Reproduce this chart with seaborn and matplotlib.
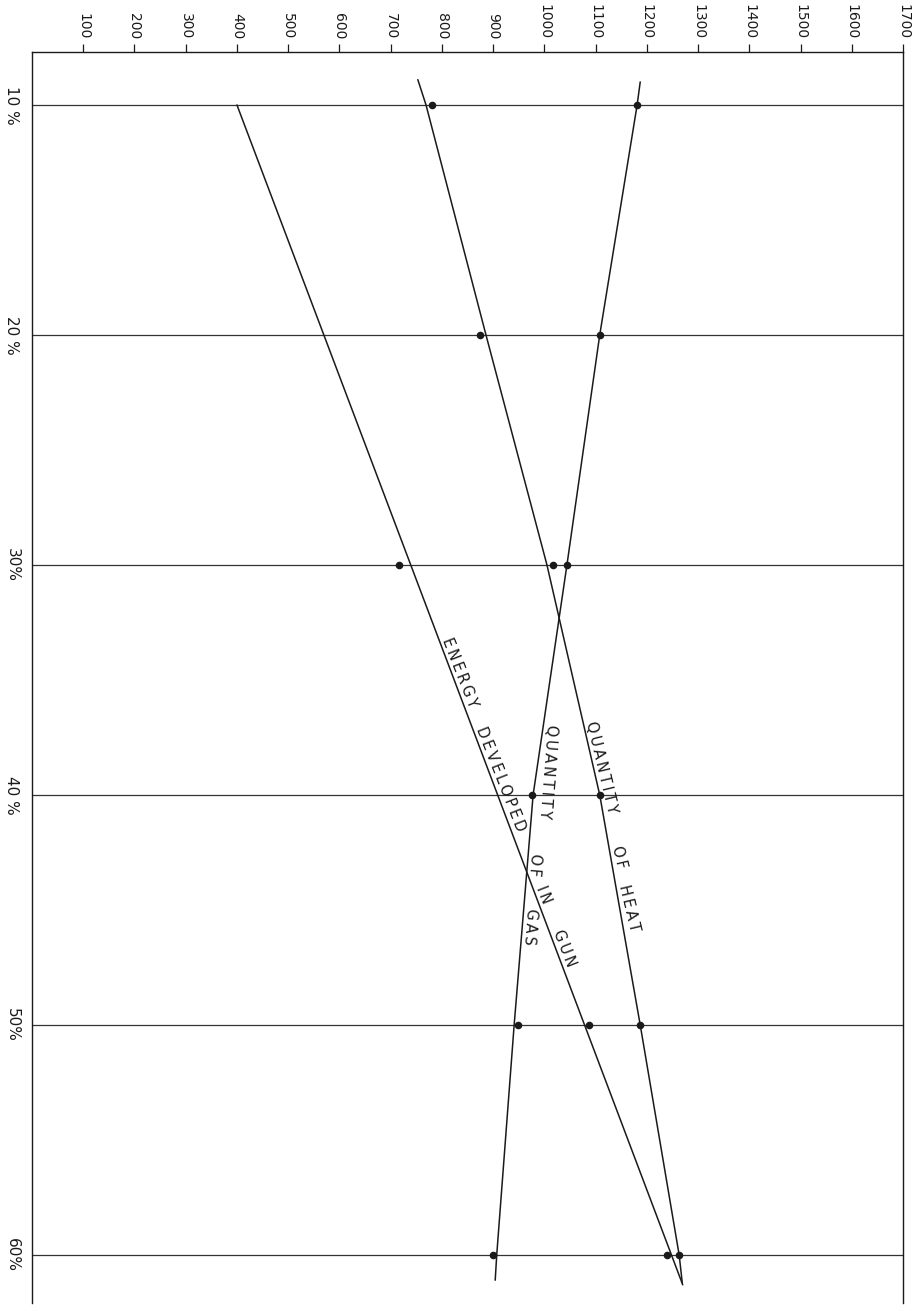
import numpy as np
import pandas as pd
import matplotlib
matplotlib.use("Agg")
import matplotlib.pyplot as plt
import seaborn as sns

# -----------------------------
# Data
# -----------------------------
pct_ticks = [10, 20, 30, 40, 50, 60]
pct_labels = ["10 %", "20 %", "30%", "40 %", "50%", "60%"]
value_ticks = list(range(100, 1800, 100))

# measured points (dots)
heat_pct = [10, 20, 30, 40, 50, 60]
heat_val = [781, 874, 1017, 1108, 1187, 1263]

gas_pct = [10, 20, 30, 40, 50, 60]
gas_val = [1181, 1108, 1044, 975, 948, 900]

energy_pct = [30, 50, 60]
energy_val = [716, 1087, 1239]

# drawn (faired) curves
heat_line_pct = [8.9, 10, 20, 30, 40, 50, 60, 61.2]
heat_line_val = [753, 769, 886, 1005, 1108, 1187, 1263, 1269]

gas_line_pct = [9.0, 10, 20, 30, 40, 50, 60, 61.1]
gas_line_val = [1187, 1181, 1108, 1044, 978, 941, 907, 904]

energy_line_pct = [10, 61.3]
energy_line_val = [400, 1270]

# curve labels: words and where each starts (percent along the curve)
energy_words = ["ENERGY", "DEVELOPED", "IN", "GUN"]
energy_word_pct = [33.3, 37.2, 44.1, 46.0]
heat_words = ["QUANTITY", "OF", "HEAT"]
heat_word_pct = [36.9, 42.3, 44.0]
gas_words = ["QUANTITY", "OF", "GAS"]
gas_word_pct = [36.9, 42.5, 44.9]

# -----------------------------
# Figure
# -----------------------------
sns.set_theme(style="white")
plt.rcParams["font.family"] = ["DejaVu Sans"]

fig = plt.figure(figsize=(9.16, 13.11), dpi=100)
ax = fig.add_axes([0.0349, 0.0061, 0.951, 0.9542])

ink = "#1a1a1a"

# horizontal rules at each percent
for p in pct_ticks:
    ax.axhline(p, color="#333333", lw=0.9, zorder=1)

lines = [
    (heat_line_val, heat_line_pct),
    (gas_line_val, gas_line_pct),
    (energy_line_val, energy_line_pct),
]
for xv, yv in lines:
    sns.lineplot(x=xv, y=yv, sort=False, color=ink, lw=1.1, ax=ax, zorder=2)

pts = pd.DataFrame({
    "value": heat_val + gas_val + energy_val,
    "pct": heat_pct + gas_pct + energy_pct,
})
sns.scatterplot(data=pts, x="value", y="pct", color=ink, s=30,
                edgecolor=ink, linewidth=0, ax=ax, zorder=3)


def spaced(word):
    return "\u2009".join(word)


def label_curve(words, word_pct, line_pct, line_val, angle):
    for w, p in zip(words, word_pct):
        v = np.interp(p, line_pct, line_val)
        ax.text(v, p, spaced(w), rotation=angle, rotation_mode="anchor",
                ha="left", va="bottom", fontsize=10.5, color=ink, zorder=4)


label_curve(energy_words, energy_word_pct, energy_line_pct, energy_line_val, -68.5)
label_curve(heat_words, heat_word_pct, heat_line_pct, heat_line_val, -76.5)
label_curve(gas_words, gas_word_pct, gas_line_pct, gas_line_val, -94.5)

# -----------------------------
# Axes styling
# -----------------------------
ax.set_xlim(0, 1700)
ax.set_ylim(62.09, 7.70)

ax.xaxis.tick_top()
ax.set_xticks(value_ticks)
ax.set_xticklabels([str(v) for v in value_ticks], rotation=-90,
                   fontsize=10, color=ink)
ax.tick_params(axis="x", top=True, bottom=False, length=6, width=0.9,
               direction="out", pad=3, color=ink)

ax.set_yticks(pct_ticks)
ax.set_yticklabels(pct_labels, rotation=-90, fontsize=11, color=ink,
                   va="center")
ax.tick_params(axis="y", left=False, right=False, pad=3)

ax.set_xlabel("")
ax.set_ylabel("")

for side in ["top", "left", "right"]:
    ax.spines[side].set_visible(True)
    ax.spines[side].set_color(ink)
    ax.spines[side].set_linewidth(1.0)
ax.spines["bottom"].set_visible(False)

fig.savefig("out.png", dpi=100, facecolor="white")
